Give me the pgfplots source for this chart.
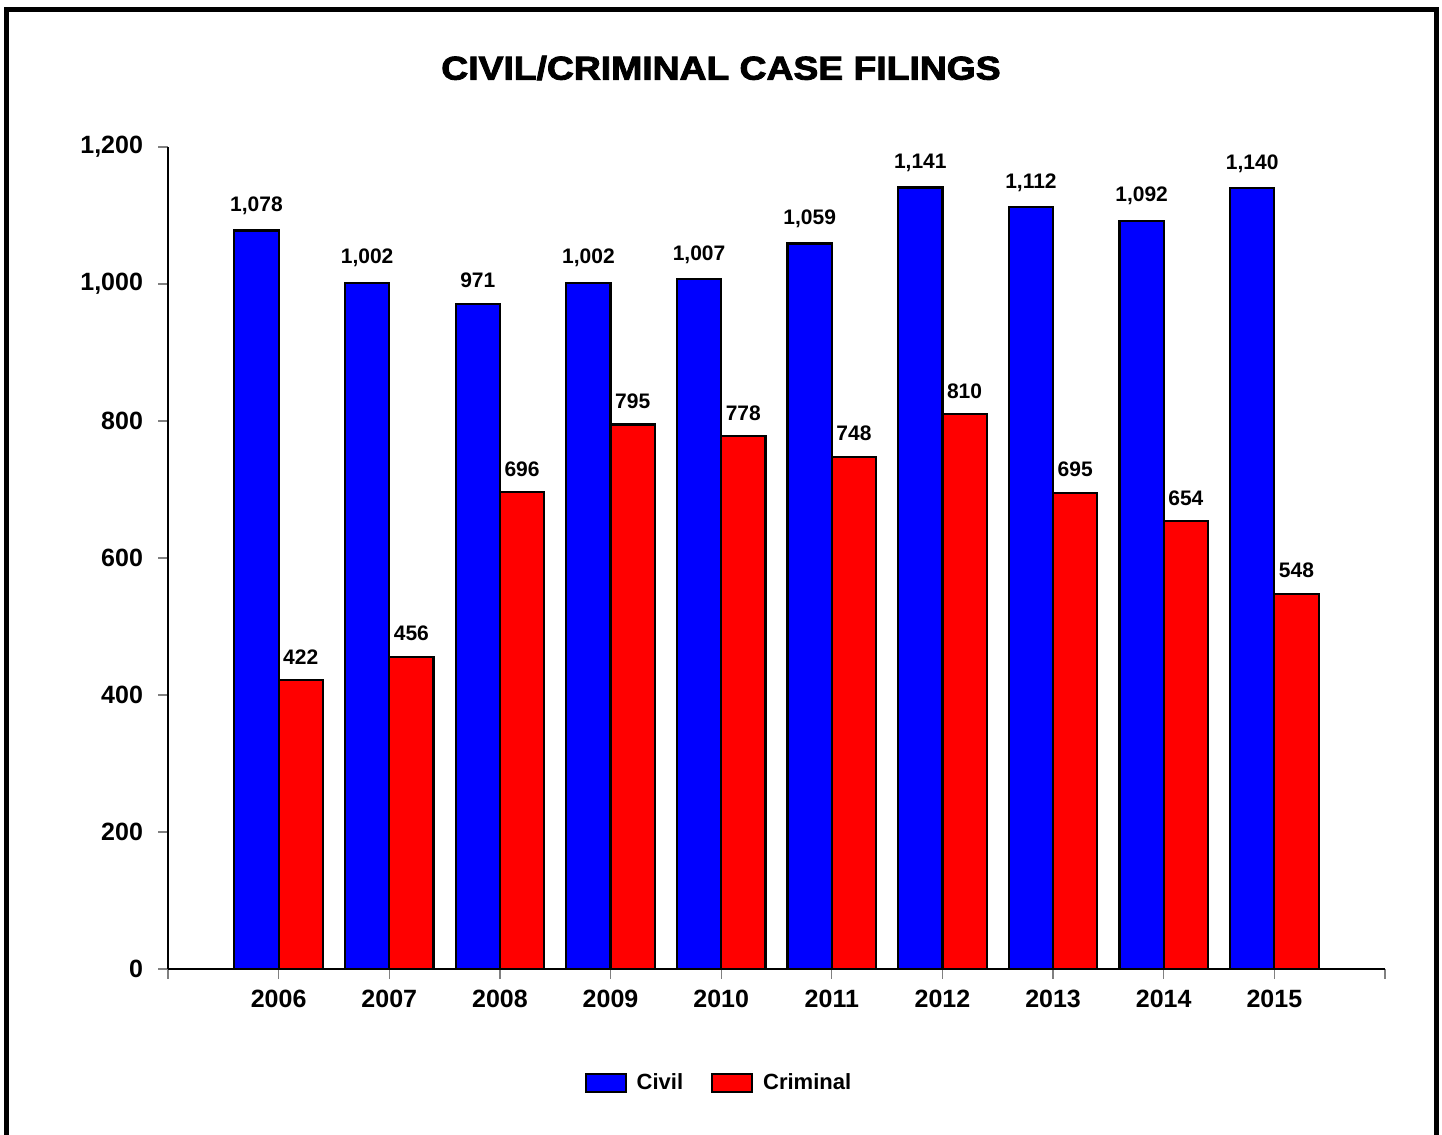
\documentclass[border=0pt]{standalone}
\usepackage{fontspec}
\setmainfont{Liberation Sans}
\newfontfamily\heavy{Liberation Sans Bold}[FakeBold=2.5]
\usepackage{pgfplots}
\pgfplotsset{compat=1.18}
\begin{document}
\begin{tikzpicture}[x=1pt,y=1pt]
\useasboundingbox (0,0) rectangle (721,567.5);
\draw[line width=2.5pt] (3,0) -- (3,562.5) -- (718,562.5) -- (718,0);
\node[font=\heavy\fontsize{16.5}{18}\selectfont] at (360.5,533.5) {\scalebox{1.13}[1]{CIVIL/CRIMINAL CASE FILINGS}};
\begin{axis}[
  at={(84pt,83pt)}, anchor=south west,
  scale only axis, width=608.5pt, height=411pt,
  xmin=0, xmax=11, ymin=0, ymax=1200,
  axis lines*=left,
  axis line style={black, line width=1pt},
  xtick={0,...,11},
  xticklabels={,2006,2007,2008,2009,2010,2011,2012,2013,2014,2015,},
  ytick={0,200,...,1200},
  tick align=outside, tick pos=left,
  major tick length=5pt,
  tick style={gray, line width=0.6pt},
  /pgf/number format/assume math mode=true,
  /pgf/number format/.cd, 1000 sep={,}, /pgfplots/.cd,
  yticklabel style={font=\bfseries\fontsize{12.5}{14}\selectfont, xshift=-4pt},
  xticklabel style={font=\bfseries\fontsize{12.5}{14}\selectfont, yshift=-2pt},
  ybar, bar width=0.4,
  nodes near coords,
  every node near coord/.append style={font=\bfseries\fontsize{10.5}{12}\selectfont, anchor=south, yshift=4pt},
  legend style={at={(0.4535,-0.139)}, anchor=center, draw=none, legend columns=2,
    font=\bfseries\fontsize{11}{13}\selectfont,
    /tikz/every even column/.append style={column sep=12pt},
    /tikz/every odd column/.append style={column sep=3pt}},
  legend image code/.code={\draw[#1, line width=1pt] (0pt,-4.5pt) rectangle (20pt,4.5pt);},
  clip=false,
]
\addplot[fill={rgb,255:red,0;green,0;blue,255}, draw=black, line width=1.1pt, bar shift=-0.2] coordinates {
(1,1078) (2,1002) (3,971) (4,1002) (5,1007) (6,1059) (7,1141) (8,1112) (9,1092) (10,1140)};
\addplot[fill={rgb,255:red,255;green,0;blue,0}, draw=black, line width=1.1pt, bar shift=0.2] coordinates {
(1,422) (2,456) (3,696) (4,795) (5,778) (6,748) (7,810) (8,695) (9,654) (10,548)};
\legend{Civil,Criminal}
\end{axis}
\end{tikzpicture}
\end{document}
